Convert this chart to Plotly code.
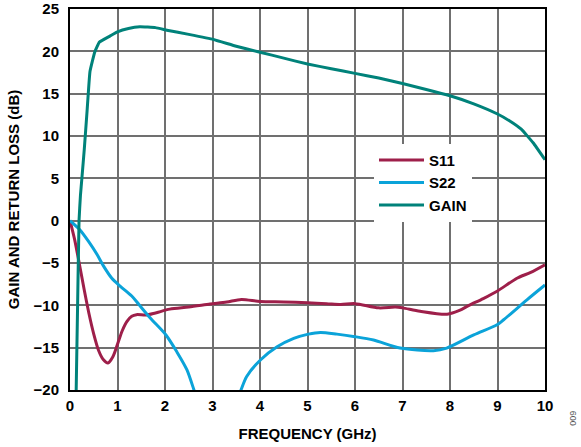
import plotly.graph_objects as go

# Frequency (GHz) and values (dB)
gain_x = [0.13, 0.16, 0.19, 0.22, 0.25, 0.30, 0.36, 0.42, 0.52, 0.62, 0.84, 1.0, 1.23, 1.47, 1.8,
          2.04, 2.5, 3.02, 3.5, 4.0, 4.5, 5.0, 5.5, 6.0, 6.5, 7.0, 7.5, 8.0, 8.5, 9.0, 9.25, 9.5,
          9.75, 10.0]
gain_y = [-20, -10, 0, 3.0, 5.0, 8.4, 13.0, 17.6, 19.9, 21.1, 21.8, 22.3, 22.7, 22.9, 22.8,
          22.5, 22.0, 21.4, 20.6, 19.9, 19.2, 18.5, 17.95, 17.4, 16.85, 16.2, 15.5, 14.75, 13.8,
          12.6, 11.8, 10.8, 9.2, 7.2]

s11_x = [0.0, 0.1, 0.2, 0.3, 0.4, 0.5, 0.6, 0.7, 0.8, 0.9, 1.0, 1.1, 1.2, 1.3, 1.4, 1.6, 1.8, 2.1,
         2.5, 2.95, 3.3, 3.61, 4.0, 4.5, 5.0, 5.4, 5.7, 6.0, 6.5, 6.85, 7.0, 7.37, 7.94, 8.2, 8.4,
         8.7, 9.0, 9.41, 9.7, 10.0]
s11_y = [0.0, -2.3, -5.2, -8.2, -11.0, -13.4, -15.3, -16.4, -16.8, -16.1, -14.6, -13.0, -11.9,
         -11.3, -11.1, -11.15, -10.9, -10.45, -10.2, -9.85, -9.6, -9.3, -9.55, -9.6, -9.7, -9.8,
         -9.9, -9.8, -10.3, -10.2, -10.3, -10.7, -11.05, -10.6, -10.0, -9.2, -8.3, -6.8, -6.1, -5.2]

s22_x = [0.0, 0.21, 0.39, 0.57, 0.71, 0.88, 1.06, 1.30, 1.45, 1.69, 2.02, 2.25, 2.46, 2.61, 2.64,
         None,
         3.58, 3.6, 3.72, 4.02, 4.36, 4.71, 5.02, 5.27, 5.62, 6.0, 6.39, 6.95, 7.65, 7.93, 8.5,
         8.99, 9.13, 9.62, 10.0]
s22_y = [0.0, -1.1, -2.45, -4.0, -5.4, -6.8, -7.75, -8.9, -9.9, -11.5, -13.5, -15.5, -17.6,
         -20.0, -20.5,
         None,
         -20.3, -20.0, -18.4, -16.4, -14.9, -13.9, -13.4, -13.2, -13.4, -13.7, -14.1, -15.05, -15.35,
         -15.05, -13.5, -12.3, -11.7, -9.35, -7.6]

x_ticks = [0, 1, 2, 3, 4, 5, 6, 7, 8, 9, 10]
y_ticks = [-20, -15, -10, -5, 0, 5, 10, 15, 20, 25]

FONT = "Liberation Sans, Arial, sans-serif"

fig = go.Figure()
fig.add_trace(go.Scatter(x=s11_x, y=s11_y, name="S11", mode="lines",
                         line=dict(color="#9E1F4A", width=3, shape="spline", smoothing=0.8)))
fig.add_trace(go.Scatter(x=s22_x, y=s22_y, name="S22", mode="lines", connectgaps=False,
                         line=dict(color="#0BA3D9", width=3, shape="spline", smoothing=0.8)))
fig.add_trace(go.Scatter(x=gain_x, y=gain_y, name="GAIN", mode="lines",
                         line=dict(color="#00827A", width=3, shape="spline", smoothing=0.3)))

fig.update_layout(
    width=581, height=447,
    margin=dict(l=70, r=36, t=9, b=57, autoexpand=False),
    paper_bgcolor="white", plot_bgcolor="white",
    font=dict(family=FONT, size=15, color="black"),
    showlegend=True,
    legend=dict(x=0.64, y=0.646, xanchor="left", yanchor="top", bgcolor="white",
                borderwidth=0, itemwidth=45, tracegroupgap=0,
                font=dict(family=FONT, size=15, color="black", weight="bold")),
)
fig.update_xaxes(
    range=[0, 10], tickvals=x_ticks, ticktext=[str(v) for v in x_ticks],
    showgrid=True, gridcolor="#707070", gridwidth=1.5,
    showline=True, linecolor="black", linewidth=2, mirror=True,
    zeroline=False, ticks="", ticklabelstandoff=1, automargin=False,
    tickfont=dict(family=FONT, size=15, color="black", weight="bold"),
    title=dict(text="FREQUENCY (GHz)", standoff=15,
               font=dict(family=FONT, size=15, color="black", weight="bold")),
)
fig.update_yaxes(
    range=[-20, 25], tickvals=y_ticks,
    showgrid=True, gridcolor="#707070", gridwidth=1.5,
    showline=True, linecolor="black", linewidth=2, mirror=True,
    zeroline=False, ticks="", ticklabelstandoff=6, automargin=False,
    tickfont=dict(family=FONT, size=15, color="black", weight="bold"),
    title=dict(text="GAIN AND RETURN LOSS (dB)", standoff=10,
               font=dict(family=FONT, size=15, color="black", weight="bold")),
)
fig.add_annotation(text="009", xref="paper", yref="paper", x=1.057, y=-0.075,
                   xanchor="center", yanchor="middle",
                   showarrow=False, textangle=-90,
                   font=dict(family=FONT, size=9, color="#555555"))

fig.write_html("out.html")
